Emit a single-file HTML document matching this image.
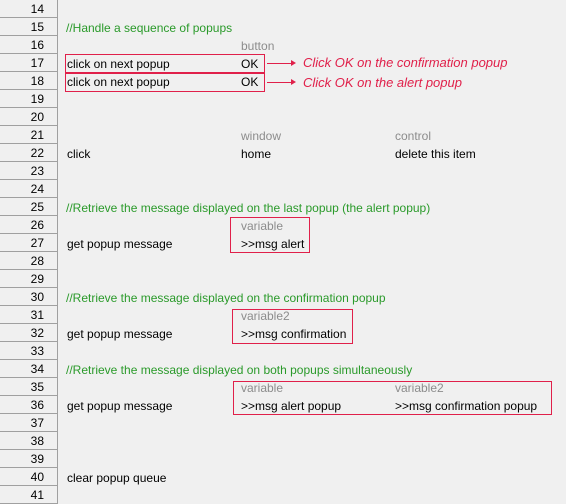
<!DOCTYPE html>
<html><head><meta charset="utf-8"><style>
body{margin:0;width:566px;height:504px;background:#f0f0f0;position:relative;overflow:hidden;font-family:"Liberation Sans","DejaVu Sans",sans-serif;font-size:12px;color:#000}
.g{position:absolute;left:0;width:57px;height:18px;border-bottom:1px solid #a0a0a0;box-sizing:border-box;text-align:right;padding-right:13px;line-height:18px;font-size:12px}
.gr{position:absolute;left:57px;top:0;width:1px;height:504px;background:#a0a0a0}
.t{position:absolute;line-height:18px;white-space:nowrap;top:1px}
.c{color:#2a9a2a}
.h{color:#8c8c8c}
.b{position:absolute;border:1px solid #e0204a;box-sizing:border-box}
.r{position:absolute;color:#e0204a;font-style:italic;font-size:13px;line-height:18px;white-space:nowrap}
.a{position:absolute;height:1px;background:#e0204a}
.ah{position:absolute;width:0;height:0;border-left:5px solid #e0204a;border-top:3px solid transparent;border-bottom:3px solid transparent}
</style></head><body>
<div class="gr"></div>
<div class="g" style="top:0">14</div><div class="g" style="top:18px">15</div><div class="g" style="top:36px">16</div><div class="g" style="top:54px">17</div><div class="g" style="top:72px">18</div><div class="g" style="top:90px">19</div><div class="g" style="top:108px">20</div><div class="g" style="top:126px">21</div><div class="g" style="top:144px">22</div><div class="g" style="top:162px">23</div><div class="g" style="top:180px">24</div><div class="g" style="top:198px">25</div><div class="g" style="top:216px">26</div><div class="g" style="top:234px">27</div><div class="g" style="top:252px">28</div><div class="g" style="top:270px">29</div><div class="g" style="top:288px">30</div><div class="g" style="top:306px">31</div><div class="g" style="top:324px">32</div><div class="g" style="top:342px">33</div><div class="g" style="top:360px">34</div><div class="g" style="top:378px">35</div><div class="g" style="top:396px">36</div><div class="g" style="top:414px">37</div><div class="g" style="top:432px">38</div><div class="g" style="top:450px">39</div><div class="g" style="top:468px">40</div><div class="g" style="top:486px">41</div>

<div class="t c" style="left:66px;top:19px">//Handle a sequence of popups</div>
<div class="t h" style="left:241px;top:37px">button</div>
<div class="t" style="left:67px;top:55px">click on next popup</div><div class="t" style="left:241px;top:55px">OK</div>
<div class="t" style="left:67px;top:73px">click on next popup</div><div class="t" style="left:241px;top:73px">OK</div>
<div class="b" style="left:65px;top:54px;width:200px;height:19px"></div>
<div class="b" style="left:65px;top:73px;width:200px;height:19px"></div>
<div class="a" style="left:267px;top:63px;width:26px"></div><div class="ah" style="left:291px;top:60px"></div>
<div class="a" style="left:267px;top:82px;width:26px"></div><div class="ah" style="left:291px;top:79px"></div>
<div class="r" style="left:303px;top:54px">Click OK on the confirmation popup</div>
<div class="r" style="left:303px;top:74px">Click OK on the alert popup</div>

<div class="t h" style="left:241px;top:127px">window</div><div class="t h" style="left:395px;top:127px">control</div>
<div class="t" style="left:67px;top:145px">click</div><div class="t" style="left:241px;top:145px">home</div><div class="t" style="left:395px;top:145px">delete this item</div>

<div class="t c" style="left:66px;top:199px">//Retrieve the message displayed on the last popup (the alert popup)</div>
<div class="t h" style="left:241px;top:217px">variable</div>
<div class="t" style="left:67px;top:235px">get popup message</div><div class="t" style="left:241px;top:235px">&gt;&gt;msg alert</div>
<div class="b" style="left:230px;top:217px;width:80px;height:36px"></div>

<div class="t c" style="left:66px;top:289px">//Retrieve the message displayed on the confirmation popup</div>
<div class="t h" style="left:241px;top:307px">variable2</div>
<div class="t" style="left:67px;top:325px">get popup message</div><div class="t" style="left:241px;top:325px">&gt;&gt;msg confirmation</div>
<div class="b" style="left:232px;top:309px;width:121px;height:35px"></div>

<div class="t c" style="left:66px;top:361px">//Retrieve the message displayed on both popups simultaneously</div>
<div class="t h" style="left:241px;top:379px">variable</div><div class="t h" style="left:395px;top:379px">variable2</div>
<div class="t" style="left:67px;top:397px">get popup message</div><div class="t" style="left:241px;top:397px">&gt;&gt;msg alert popup</div><div class="t" style="left:395px;top:397px">&gt;&gt;msg confirmation popup</div>
<div class="b" style="left:233px;top:381px;width:319px;height:34px"></div>

<div class="t" style="left:67px;top:469px">clear popup queue</div>
</body></html>
